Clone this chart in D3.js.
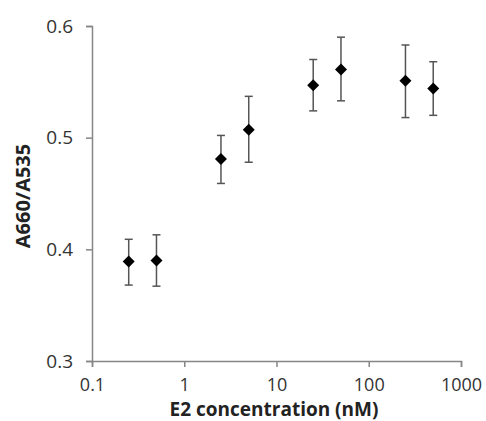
<!DOCTYPE html>
<meta charset="utf-8">
<script src="https://d3js.org/d3.v7.min.js"></script>
<style>
  body { margin: 0; background: #fff; }
  text { font-family: "Open Sans", sans-serif; }
</style>
<div id="chart"></div>
<script>

// E2 concentration (nM) and A660/A535 ratio
const conc = [0.25, 0.5, 2.5, 5, 25, 50, 250, 500];
const ratio = [0.389, 0.390, 0.481, 0.507, 0.547, 0.561, 0.551, 0.544];
const errLow = [0.368, 0.367, 0.459, 0.478, 0.524, 0.533, 0.518, 0.520];
const errHigh = [0.409, 0.413, 0.502, 0.537, 0.570, 0.590, 0.583, 0.568];

const xTicks = [0.1, 1, 10, 100, 1000];
const yTicks = [0.3, 0.4, 0.5, 0.6];

const width = 486, height = 421;
const margin = {top: 26, right: 25, bottom: 60, left: 92};

const svg = d3.select("#chart").append("svg")
    .attr("width", width)
    .attr("height", height);

const x = d3.scaleLog()
    .domain([0.1, 1000])
    .range([margin.left, width - margin.right]);

const y = d3.scaleLinear()
    .domain([0.3, 0.6])
    .range([height - margin.bottom, margin.top]);

const axisColor = "#868686";

// y axis
const yAxis = svg.append("g")
    .attr("transform", `translate(${margin.left},0)`)
    .call(d3.axisLeft(y).tickValues(yTicks).tickFormat(d3.format(".1f")).tickSize(6).tickPadding(13));

// x axis
const xAxis = svg.append("g")
    .attr("transform", `translate(0,${y(0.3)})`)
    .call(d3.axisBottom(x).tickValues(xTicks).tickFormat(d => d3.format("")(d)).tickSize(6).tickPadding(11));

yAxis.selectAll(".tick text").style("font-size", "19px");
xAxis.selectAll(".tick text").style("font-size", "18px");

[xAxis, yAxis].forEach(g => {
    g.select(".domain").attr("stroke", axisColor).attr("stroke-width", 1.5);
    g.selectAll(".tick line").attr("stroke", axisColor).attr("stroke-width", 1.5);
    g.selectAll(".tick text")
        .attr("fill", "#333")
        .style("font-family", "'Open Sans', sans-serif");
});

// axis titles
svg.append("text")
    .attr("x", 274)
    .attr("y", 416)
    .attr("text-anchor", "middle")
    .attr("fill", "#222")
    .style("font-size", "19px")
    .style("font-weight", "bold")
    .text("E2 concentration (nM)");

svg.append("text")
    .attr("transform", `translate(30,196) rotate(-90)`)
    .attr("text-anchor", "middle")
    .attr("fill", "#222")
    .style("font-size", "20px")
    .style("font-weight", "bold")
    .text("A660/A535");

// error bars
const bars = svg.append("g")
    .selectAll("g")
    .data(conc)
    .join("g")
    .attr("stroke", "#555")
    .attr("stroke-width", 1.5);

bars.append("line")
    .attr("x1", d => x(d)).attr("x2", d => x(d))
    .attr("y1", (d, i) => y(errLow[i]))
    .attr("y2", (d, i) => y(errHigh[i]));

bars.append("line")
    .attr("x1", d => x(d) - 4).attr("x2", d => x(d) + 4)
    .attr("y1", (d, i) => y(errLow[i]))
    .attr("y2", (d, i) => y(errLow[i]));

bars.append("line")
    .attr("x1", d => x(d) - 4).attr("x2", d => x(d) + 4)
    .attr("y1", (d, i) => y(errHigh[i]))
    .attr("y2", (d, i) => y(errHigh[i]));

// diamond markers (square turned 45 degrees)
svg.append("g")
    .selectAll("path")
    .data(conc)
    .join("path")
    .attr("d", d3.symbol(d3.symbolSquare, 72))
    .attr("transform", (d, i) => `translate(${x(d)},${y(ratio[i])}) rotate(45)`)
    .attr("fill", "#000");

</script>
